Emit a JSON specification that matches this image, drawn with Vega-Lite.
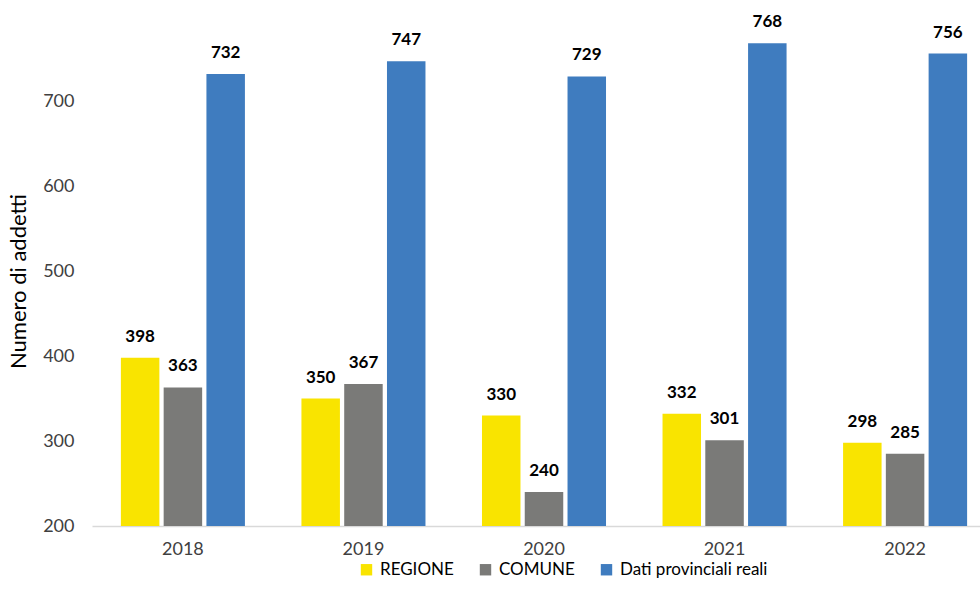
{
  "$schema": "https://vega.github.io/schema/vega-lite/v6.json",
  "width": 888,
  "height": 526,
  "autosize": {"type": "none"},
  "padding": {"left": 92, "top": 0, "right": 0, "bottom": 82},
  "background": "white",
  "config": {"view": {"stroke": null}, "font": "Lato"},
  "data": {"values": [
    {"anno": "2018", "serie": "REGIONE", "valore": 398},
    {"anno": "2018", "serie": "COMUNE", "valore": 363},
    {"anno": "2018", "serie": "Dati provinciali reali", "valore": 732},
    {"anno": "2019", "serie": "REGIONE", "valore": 350},
    {"anno": "2019", "serie": "COMUNE", "valore": 367},
    {"anno": "2019", "serie": "Dati provinciali reali", "valore": 747},
    {"anno": "2020", "serie": "REGIONE", "valore": 330},
    {"anno": "2020", "serie": "COMUNE", "valore": 240},
    {"anno": "2020", "serie": "Dati provinciali reali", "valore": 729},
    {"anno": "2021", "serie": "REGIONE", "valore": 332},
    {"anno": "2021", "serie": "COMUNE", "valore": 301},
    {"anno": "2021", "serie": "Dati provinciali reali", "valore": 768},
    {"anno": "2022", "serie": "REGIONE", "valore": 298},
    {"anno": "2022", "serie": "COMUNE", "valore": 285},
    {"anno": "2022", "serie": "Dati provinciali reali", "valore": 756}
  ]},
  "encoding": {
    "x": {
      "field": "anno", "type": "nominal",
      "scale": {"range": [0, 904], "paddingInner": 0.313, "paddingOuter": 0.16},
      "axis": {"title": null, "labelAngle": 0, "labelFontSize": 18, "labelColor": "#404040", "labelPadding": 14, "ticks": false, "domainColor": "#d9d9d9", "domainWidth": 1.5}
    },
    "xOffset": {
      "field": "serie", "type": "nominal",
      "sort": ["REGIONE", "COMUNE", "Dati provinciali reali"],
      "scale": {"paddingInner": 0.1}
    },
    "y": {
      "field": "valore", "type": "quantitative",
      "scale": {"domain": [200, 819], "nice": false, "zero": false},
      "axis": {"title": "Numero di addetti", "titleFontSize": 22, "titleFontWeight": "normal", "titleColor": "#000000", "titleAngle": -90, "titleX": -74, "titleY": 281, "titleBaseline": "middle", "titleAlign": "center", "values": [200, 300, 400, 500, 600, 700], "labelFontSize": 18, "labelColor": "#404040", "labelPadding": 18, "ticks": false, "domain": false, "grid": false}
    }
  },
  "layer": [
    {
      "mark": {"type": "bar"},
      "encoding": {
        "y2": {"datum": 200},
        "color": {
          "field": "serie", "type": "nominal",
          "scale": {"domain": ["REGIONE", "COMUNE", "Dati provinciali reali"], "range": ["#f9e400", "#7a7a78", "#3f7cbf"]},
          "legend": {"title": null, "orient": "none", "legendX": 266, "legendY": 561, "direction": "horizontal", "symbolType": "square", "symbolSize": 130, "symbolStrokeWidth": 0, "labelFontSize": 17, "labelColor": "#000000", "labelOffset": 5, "columnPadding": 23}
        }
      }
    },
    {
      "mark": {"type": "text", "dy": -21, "fontSize": 17, "fontWeight": "bold", "color": "#000000", "baseline": "middle"},
      "encoding": {"text": {"field": "valore", "type": "quantitative"}}
    }
  ]
}
